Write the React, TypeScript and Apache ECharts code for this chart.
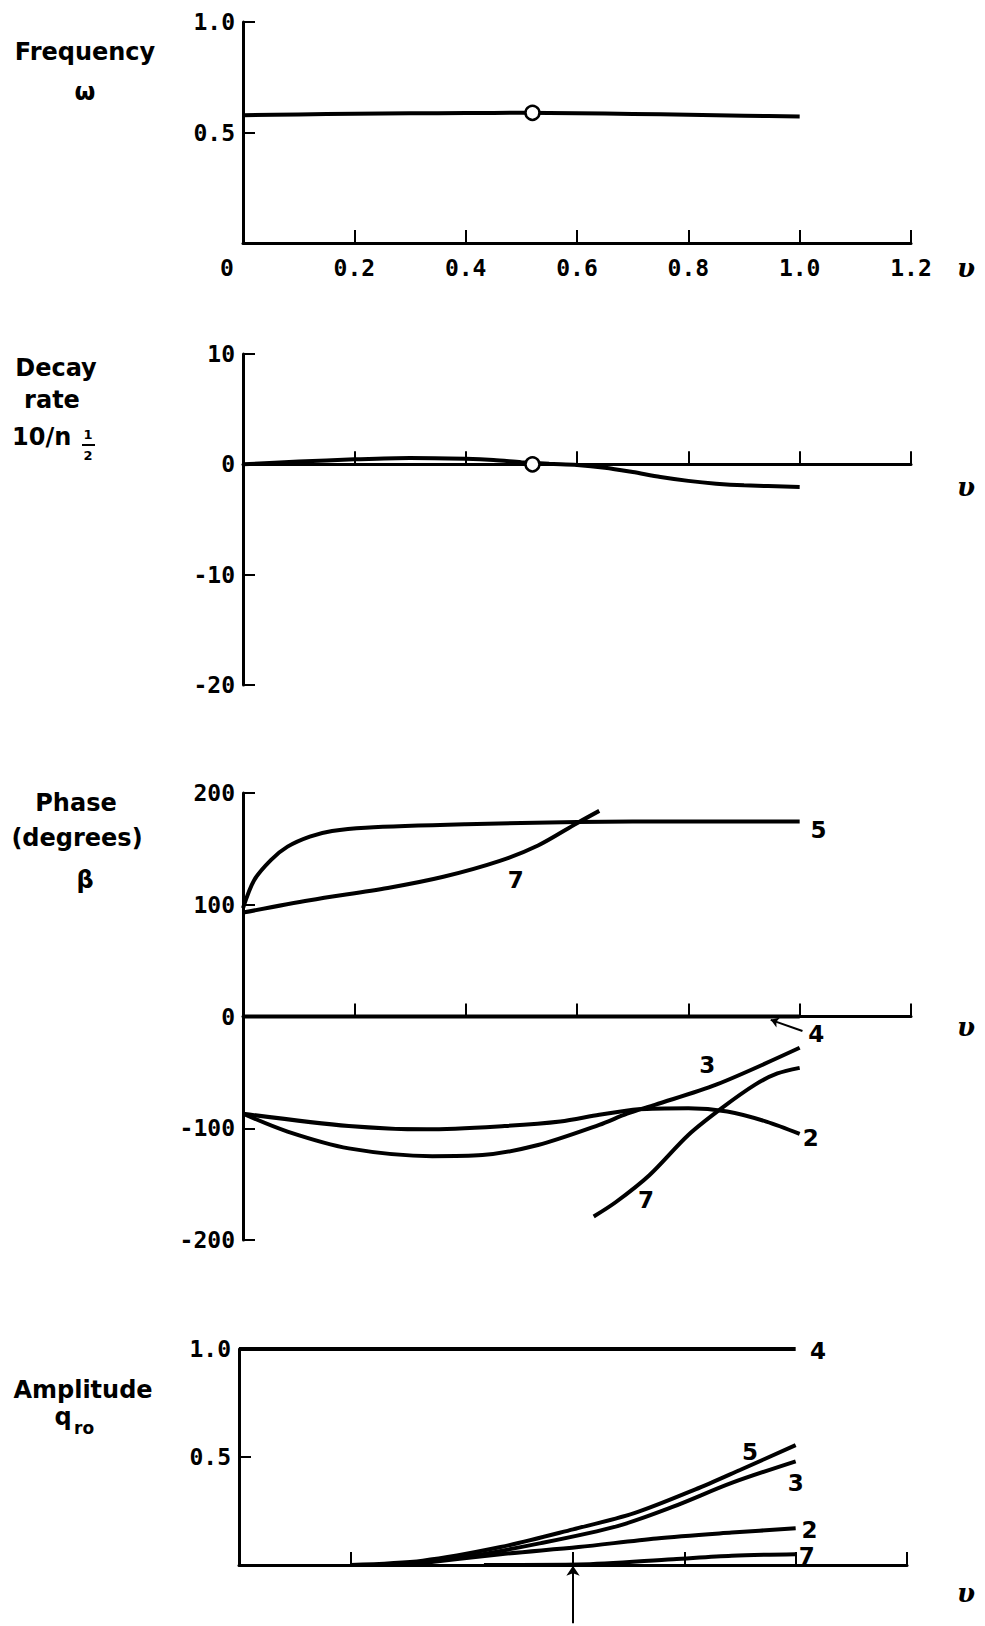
import React, { useEffect, useRef } from "react";
import * as echarts from "echarts";

// ---- Data ----
const freqV = [0, 0.1, 0.2, 0.3, 0.4, 0.5, 0.6, 0.7, 0.8, 0.9, 1.0];
const freqW = [0.578, 0.582, 0.585, 0.587, 0.588, 0.589, 0.587, 0.584, 0.58, 0.576, 0.572];
const freqMarker = [0.52, 0.589];

const decayV = [0, 0.1, 0.2, 0.3, 0.4, 0.45, 0.5, 0.55, 0.6, 0.65, 0.7, 0.75, 0.8, 0.85, 0.9, 1.0];
const decayR = [0, 0.25, 0.45, 0.57, 0.5, 0.4, 0.2, 0.05, -0.05, -0.3, -0.7, -1.15, -1.5, -1.75, -1.9, -2.05];
const decayMarker = [0.52, 0];

const phase5V = [0, 0.02, 0.05, 0.08, 0.12, 0.16, 0.22, 0.4, 0.6, 0.8, 1.0];
const phase5 = [97, 122, 140, 152, 161, 166, 169, 172, 174, 174.5, 174.5];
const phase7aV = [0, 0.12, 0.26, 0.36, 0.46, 0.53, 0.6, 0.64];
const phase7a = [93, 104, 115, 125, 139, 153, 173, 184];
const phase4V = [0, 1.0];
const phase4 = [0, 0];
const phase2V = [0, 0.19, 0.33, 0.47, 0.57, 0.64, 0.71, 0.8, 0.87, 0.94, 1.0];
const phase2 = [-87, -98, -101, -98, -94, -88, -83, -82, -85, -94, -105];
const phase3V = [0, 0.08, 0.19, 0.34, 0.43, 0.53, 0.64, 0.69, 0.74, 0.85, 1.0];
const phase3 = [-87, -103, -118, -125, -124, -115, -97, -87, -79, -61, -28];
const phase7bV = [0.63, 0.67, 0.73, 0.8, 0.86, 0.92, 0.96, 1.0];
const phase7b = [-179, -166, -142, -106, -82, -61, -51, -46];

const amp4V = [0, 1.0];
const amp4 = [1, 1];
const amp5V = [0.2, 0.33, 0.47, 0.6, 0.71, 0.82, 0.9, 1.0];
const amp5 = [0, 0.02, 0.083, 0.165, 0.24, 0.35, 0.44, 0.555];
const amp3V = [0.26, 0.4, 0.54, 0.68, 0.78, 0.885, 1.0];
const amp3 = [0, 0.035, 0.1, 0.18, 0.27, 0.38, 0.48];
const amp2V = [0.3, 0.47, 0.61, 0.75, 0.885, 1.0];
const amp2 = [0, 0.05, 0.083, 0.123, 0.15, 0.17];
const amp7V = [0.44, 0.61, 0.78, 0.885, 1.0];
const amp7 = [0, 0.002, 0.027, 0.043, 0.05];

// curve labels: [x, y, text]
const phaseLabels: [number, number, string][] = [
  [1.034, 167, "5"],
  [0.49, 122, "7"],
  [0.834, -43, "3"],
  [1.02, -109, "2"],
  [1.03, -16, "4"],
  [0.724, -164, "7"],
];
const ampLabels: [number, number, string][] = [
  [1.04, 0.99, "4"],
  [0.918, 0.525, "5"],
  [1.0, 0.38, "3"],
  [1.025, 0.162, "2"],
  [1.02, 0.04, "7"],
];
const phaseArrow = [[1.005, -13], [0.948, -3]];
const ampArrow = [[0.6, -0.27], [0.6, -0.004]];

const zip = (xs: number[], ys: number[]) => xs.map((x, i) => [x, ys[i]]);

const INK = "#000";
const TICK_FONT = "DejaVu Sans Mono";
const LABEL_FONT = "DejaVu Sans";
const TICK_SIZE = 23;

function lineSeries(g: number, xs: number[], ys: number[]) {
  return {
    type: "line",
    xAxisIndex: g,
    yAxisIndex: g,
    data: zip(xs, ys),
    symbol: "none",
    showSymbol: false,
    smooth: 0.3,
    lineStyle: { color: INK, width: 4, opacity: 1 },
    z: 3,
  };
}

function labelSeries(g: number, items: [number, number, string][]) {
  return {
    type: "scatter",
    xAxisIndex: g,
    yAxisIndex: g,
    symbolSize: 1,
    itemStyle: { color: "rgba(255,255,255,0)", opacity: 1 },
    data: items.map((d) => ({ value: [d[0], d[1]], name: d[2] })),
    label: {
      show: true,
      position: "inside",
      formatter: "{b}",
      color: INK,
      opacity: 1,
      fontSize: 23,
      fontFamily: LABEL_FONT,
      fontWeight: "bold",
    },
    z: 6,
  };
}

function markerSeries(g: number, pt: number[]) {
  return {
    type: "scatter",
    xAxisIndex: g,
    yAxisIndex: g,
    symbol: "circle",
    symbolSize: 14,
    itemStyle: { color: "#fff", borderColor: INK, borderWidth: 2.5, opacity: 1 },
    data: [pt],
    z: 7,
  };
}

function arrowSeries(g: number, coords: number[][], size: number) {
  return {
    type: "lines",
    coordinateSystem: "cartesian2d",
    xAxisIndex: g,
    yAxisIndex: g,
    clip: false,
    symbol: ["none", "arrow"],
    symbolSize: size,
    lineStyle: { color: INK, width: 2, opacity: 1 },
    data: [{ coords }],
    z: 6,
  };
}

const grids = [
  { left: 243, top: 22, width: 668, height: 221 },
  { left: 243, top: 354, width: 668, height: 331 },
  { left: 243, top: 793, width: 668, height: 447 },
  { left: 239, top: 1349, width: 668, height: 216 },
];

const yRanges = [
  { min: 0, max: 1, interval: 0.5, fmt: (v: number) => (v === 0 ? "" : v.toFixed(1)) },
  { min: -20, max: 10, interval: 10, fmt: (v: number) => String(v) },
  { min: -200, max: 200, interval: 100, fmt: (v: number) => String(v) },
  { min: 0, max: 1, interval: 0.5, fmt: (v: number) => (v === 0 ? "" : v.toFixed(1)) },
];

function leftText(text: string, x: number, y: number, size = 24, align = "center") {
  return {
    type: "text",
    x,
    y,
    style: {
      text,
      fill: INK,
      font: `bold ${size}px "${LABEL_FONT}", sans-serif`,
      textAlign: align,
      textVerticalAlign: "middle",
    },
  };
}

function nuText(y: number) {
  return {
    type: "text",
    x: 966,
    y,
    style: {
      text: "υ",
      fill: INK,
      font: `italic bold 26px "DejaVu Serif", serif`,
      textAlign: "center",
      textVerticalAlign: "middle",
    },
  };
}

export default function App() {
  const ref = useRef<HTMLDivElement>(null);
  useEffect(() => {
    document.body.style.margin = "0";
    document.body.style.overflow = "hidden";
    const chart = echarts.init(ref.current!, null, { renderer: "svg" });
    const option: any = {
      animation: false,
      backgroundColor: "#fff",
      grid: grids,
      xAxis: grids.map((_, i) => ({
        type: "value",
        gridIndex: i,
        min: 0,
        max: 1.2,
        interval: 0.2,
        axisLine: { show: true, onZero: true, lineStyle: { color: INK, width: 3 } },
        axisTick: {
          show: true,
          inside: true,
          length: 13,
          lineStyle: { color: INK, width: 2 },
          ...(i === 3 ? { customValues: [0.2, 0.6, 0.8, 1.0, 1.2] } : {}),
        },
        axisLabel: {
          show: i === 0,
          margin: 13,
          color: INK,
          fontSize: TICK_SIZE,
          fontFamily: TICK_FONT,
          fontWeight: "bold",
          formatter: (v: number) => (v === 0 ? "{z|0}" : v.toFixed(1)),
          rich: { z: { padding: [0, 32, 0, 0], fontSize: TICK_SIZE, fontFamily: TICK_FONT, fontWeight: "bold", color: INK } },
        },
        splitLine: { show: false },
      })),
      yAxis: yRanges.map((r, i) => ({
        type: "value",
        gridIndex: i,
        min: r.min,
        max: r.max,
        interval: r.interval,
        axisLine: { show: true, onZero: false, lineStyle: { color: INK, width: 3 } },
        axisTick: { show: true, inside: true, length: 12, lineStyle: { color: INK, width: 2 } },
        axisLabel: {
          show: true,
          margin: 8,
          color: INK,
          fontSize: TICK_SIZE,
          fontFamily: TICK_FONT,
          fontWeight: "bold",
          formatter: r.fmt,
        },
        splitLine: { show: false },
      })),
      series: [
        lineSeries(0, freqV, freqW),
        markerSeries(0, freqMarker),
        lineSeries(1, decayV, decayR),
        markerSeries(1, decayMarker),
        lineSeries(2, phase5V, phase5),
        lineSeries(2, phase7aV, phase7a),
        lineSeries(2, phase4V, phase4),
        lineSeries(2, phase2V, phase2),
        lineSeries(2, phase3V, phase3),
        lineSeries(2, phase7bV, phase7b),
        labelSeries(2, phaseLabels),
        arrowSeries(2, phaseArrow, 8),
        lineSeries(3, amp4V, amp4),
        lineSeries(3, amp5V, amp5),
        lineSeries(3, amp3V, amp3),
        lineSeries(3, amp2V, amp2),
        lineSeries(3, amp7V, amp7),
        labelSeries(3, ampLabels),
        arrowSeries(3, ampArrow, 10),
      ],
      graphic: [
        leftText("Frequency", 85, 52),
        leftText("ω", 85, 92),
        leftText("Decay", 56, 368),
        leftText("rate", 52, 400),
        leftText("10/n", 12, 437, 24, "left"),
        leftText("1", 88, 434, 13),
        { type: "line", shape: { x1: 82, y1: 445, x2: 95, y2: 445 }, style: { stroke: INK, lineWidth: 2 } },
        leftText("2", 88, 455, 13),
        leftText("Phase", 76, 803),
        leftText("(degrees)", 77, 838),
        leftText("β", 85, 880),
        leftText("Amplitude", 83, 1390),
        leftText("q", 63, 1417, 24),
        leftText("ro", 74, 1428, 17, "left"),
        nuText(268),
        nuText(487),
        nuText(1027),
        nuText(1593),
      ],
    };
    chart.setOption(option);
    return () => chart.dispose();
  }, []);
  return <div ref={ref} style={{ width: 985, height: 1626 }} />;
}
